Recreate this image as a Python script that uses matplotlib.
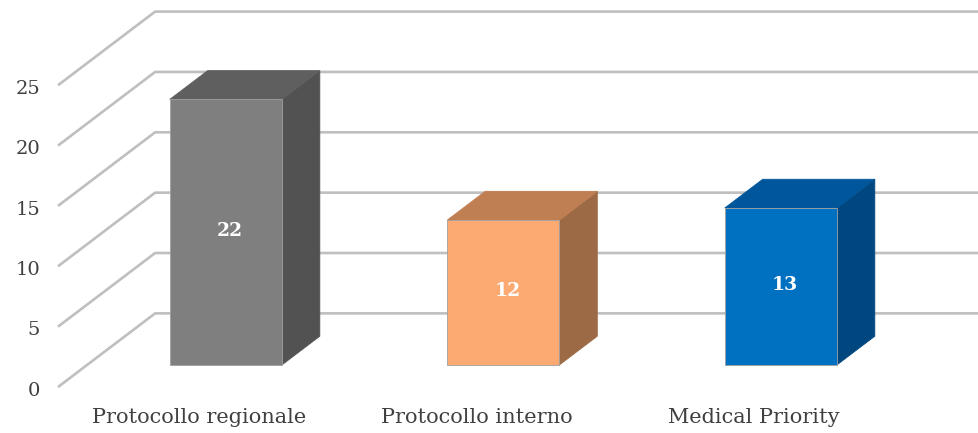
import matplotlib
matplotlib.use("Agg")
import matplotlib.pyplot as plt
from matplotlib.patches import Polygon

categories = ["Protocollo regionale", "Protocollo interno", "Medical Priority"]
values = [22, 12, 13]
ticks = [0, 5, 10, 15, 20, 25]

front_colors = ["#7F7F7F", "#FDAA72", "#0070C0"]
top_colors = ["#5F5F5F", "#C07F53", "#00569B"]
side_colors = ["#525252", "#9C6B45", "#004780"]

# oblique depth of the floor, in data units (x: categories, y: values)
DX, DY = 0.35, 6.1
F0, F1 = 0.30, 0.69      # bar depth range as fraction of the floor
BAR_W = 0.404
BAR_SHIFT = -0.008
WALL_X = -0.508          # left edge of the front plane

fig = plt.figure(figsize=(9.79, 4.33), dpi=100)
ax = fig.add_axes([0, 0, 1, 1])
ax.set_xlim(-0.717, 2.811)
ax.set_ylim(-3.81, 32.06)
ax.axis("off")

grid_c = "#BFBFBF"
for t in ticks:
    ax.plot([WALL_X, WALL_X + DX, 3.0], [t, t + DY, t + DY],
            color=grid_c, lw=1.9, solid_capstyle="butt", zorder=1)
    ax.text(WALL_X - 0.065, t - 0.3, str(t), ha="right", va="center",
            fontsize=14, family="DejaVu Serif", color="#404040")

for i, v in enumerate(values):
    xl = i + F0 * DX - BAR_W / 2 + BAR_SHIFT
    xr = xl + BAR_W
    y0 = F0 * DY
    ddx = (F1 - F0) * DX
    ddy = (F1 - F0) * DY
    front = [(xl, y0), (xr, y0), (xr, y0 + v), (xl, y0 + v)]
    top = [(xl, y0 + v), (xr, y0 + v), (xr + ddx, y0 + v + ddy), (xl + ddx, y0 + v + ddy)]
    side = [(xr, y0), (xr + ddx, y0 + ddy), (xr + ddx, y0 + v + ddy), (xr, y0 + v)]
    ax.add_patch(Polygon(side, closed=True, fc=side_colors[i], ec=side_colors[i], lw=0.6, zorder=3))
    ax.add_patch(Polygon(top, closed=True, fc=top_colors[i], ec=top_colors[i], lw=0.6, zorder=3))
    ax.add_patch(Polygon(front, closed=True, fc=front_colors[i], ec="#A0A0A0", lw=0.6, zorder=4))
    ax.text((xl + xr) / 2 + 0.015, y0 + v / 2 + 0.1, str(v), ha="center", va="center",
            fontsize=13.5, fontweight="bold", family="DejaVu Serif", color="white", zorder=5)
    ax.text(i, -2.5, categories[i], ha="center", va="center",
            fontsize=15, family="DejaVu Serif", color="#404040")

fig.savefig("out.png", dpi=100, facecolor="white")
